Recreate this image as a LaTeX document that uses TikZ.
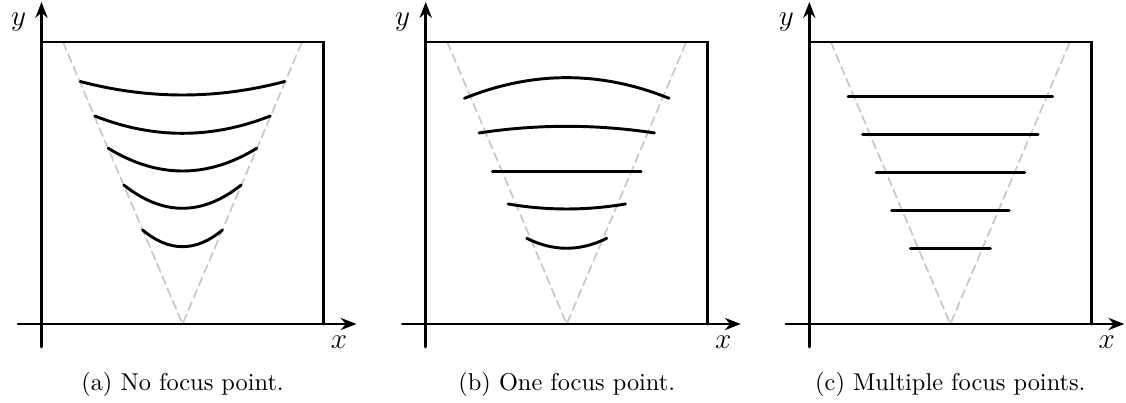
\documentclass[tikz,border=0pt]{standalone}
\usepackage{amsmath,amssymb}
\usepackage{tikz}
\usetikzlibrary{arrows.meta}
\usepackage{xcolor}

\tikzset{
  frame/.style={line width=1.2pt},
  guide/.style={black!22,line width=0.7pt,dash pattern=on 3.5pt off 2pt},
  wave/.style={line width=1.2pt},
  axislabel/.style={font=\fontsize{13}{15}\selectfont,inner sep=0pt}
}

\begin{document}
\begin{tikzpicture}[>={Stealth[length=6.5pt,width=5pt]},line cap=round]
\useasboundingbox (0,0) rectangle (16.25,5.816);
% frames, axes, guides and captions
\foreach \sx/\tag/\cap in {0.599/a/No focus point., 6.144/b/One focus point., 11.680/c/Multiple focus points.} {
  \begin{scope}[shift={(\sx,1.140)}]
  \draw[guide] (0.310,4.070) -- (2.035,0) -- (3.760,4.070);
  \draw[frame] (0,4.070) -- (4.070,4.070) -- (4.070,0);
  \draw[frame,->] (-0.339,0) -- (4.546,0);
  \draw[frame,->] (0,-0.332) -- (0,4.647);
  \node[axislabel] (x\tag) at (4.293,-0.260) {$x$};
  \node[axislabel] (y\tag) at (-0.332,4.358) {$y$};
  \node[anchor=base] (cap\tag) at (2.035,-0.962) {(\tag) \cap};
  \end{scope}
}
% (a) no focus point
\begin{scope}[shift={(0.599,1.140)}]
\foreach \w/\e/\m in {1.476/3.500/3.305,1.266/3.002/2.752,1.072/2.536/2.208,0.847/2.006/1.670,0.577/1.357/1.116}
  \draw[wave] ({2.035-\w},\e) .. controls ({2.035-\w/3},{\e+4/3*(\m-\e)}) and ({2.035+\w/3},{\e+4/3*(\m-\e)}) .. ({2.035+\w},\e);
\end{scope}
% (b) one focus point
\begin{scope}[shift={(6.144,1.140)}]
\foreach \w/\e/\m in {1.476/3.257/3.555,1.266/2.757/2.853,1.072/2.200/2.200,0.847/1.732/1.660,0.577/1.237/1.093}
  \draw[wave] ({2.035-\w},\e) .. controls ({2.035-\w/3},{\e+4/3*(\m-\e)}) and ({2.035+\w/3},{\e+4/3*(\m-\e)}) .. ({2.035+\w},\e);
\end{scope}
% (c) multiple focus points
\begin{scope}[shift={(11.680,1.140)}]
\foreach \w/\e in {1.476/3.280,1.266/2.738,1.072/2.189,0.847/1.641,0.577/1.093}
  \draw[wave] ({2.035-\w},\e) -- ({2.035+\w},\e);
\end{scope}
\end{tikzpicture}
\end{document}
